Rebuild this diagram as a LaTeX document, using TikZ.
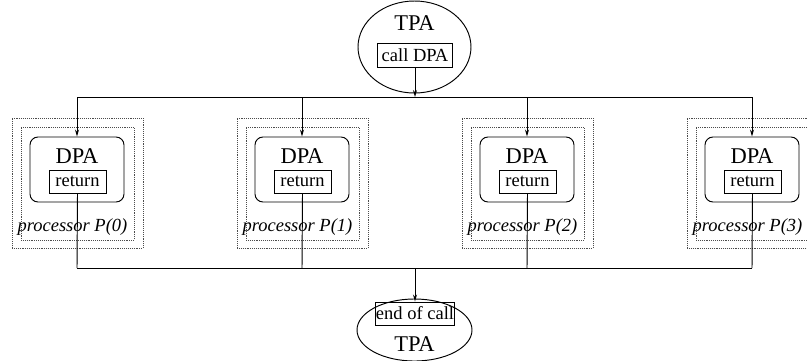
\documentclass[tikz,border=0pt]{standalone}
\usepackage{fontspec}
\setmainfont{Liberation Serif}
\usetikzlibrary{arrows.meta,shapes.geometric}
\begin{document}
\begin{tikzpicture}[x=1pt,y=-1pt,
  line width=0.95pt,
  big/.style={font=\fontsize{22.5}{24}\selectfont},
  small/.style={font=\fontsize{18.5}{20}\selectfont},
  oval/.style={draw,ellipse,inner sep=0pt},
  tbox/.style={draw,rectangle,inner sep=0pt,small},
  dpabox/.style={draw,rectangle,rounded corners=8pt,minimum width=94,minimum height=65,inner sep=0pt},
  dotbox/.style={draw=black!70,densely dotted,line width=0.9pt,rectangle,inner sep=0pt},
  arr/.style={-{Stealth[length=7pt,width=4pt]}},
  proclabel/.style={font=\fontsize{18.5}{20}\selectfont\itshape,inner sep=0pt}]
\useasboundingbox (0,0) rectangle (807,360);
% top TPA
\node[oval,minimum width=113,minimum height=92] (tpa) at (414.5,47) {};
\node[big,inner sep=0pt] (tpatext) at (414.5,23) {TPA};
\node[tbox,minimum width=75,minimum height=24] (call) at (415,55) {call DPA};
\coordinate (bustop) at (415,97);
\draw[arr] (call) -- (bustop);
\coordinate (busL) at (77,97);
\coordinate (busR) at (752,97);
\draw (busL) -- (busR);
% processors
\foreach \i in {0,1,2,3}{
  \pgfmathsetmacro{\cx}{77+225*\i}
  \node[dotbox,minimum width=131,minimum height=130] (outer\i) at (\cx+0.5,183) {};
  \node[dotbox,minimum width=113,minimum height=113] (inner\i) at (\cx+0.5,183.5) {};
  \node[dpabox] (dpa\i) at (\cx,169.5) {};
  \node[big,inner sep=0pt] (dpatext\i) at (\cx,156) {DPA};
  \node[tbox,minimum width=57,minimum height=23] (ret\i) at (\cx+0.5,181.5) {return};
  \node[proclabel] (plabel\i) at (\cx-4.5,227) {processor P(\i)};
  \coordinate (tin\i) at (\cx,97);
  \coordinate (bout\i) at (\cx,268);
  \draw[arr] (tin\i) -- (dpa\i.north);
  \draw (ret\i.south) -- (bout\i);
}
\draw (bout0) -- (bout3);
% bottom TPA
\node[oval,minimum width=115,minimum height=62] (tpaend) at (414.5,330) {};
\node[big,inner sep=0pt] (tpaendtext) at (414.5,344) {TPA};
\node[tbox,minimum width=76,minimum height=23] (endcall) at (415,313.5) {end of call};
\coordinate (busbot) at (415,268);
\draw[arr] (busbot) -- (endcall.north);
\end{tikzpicture}
\end{document}
